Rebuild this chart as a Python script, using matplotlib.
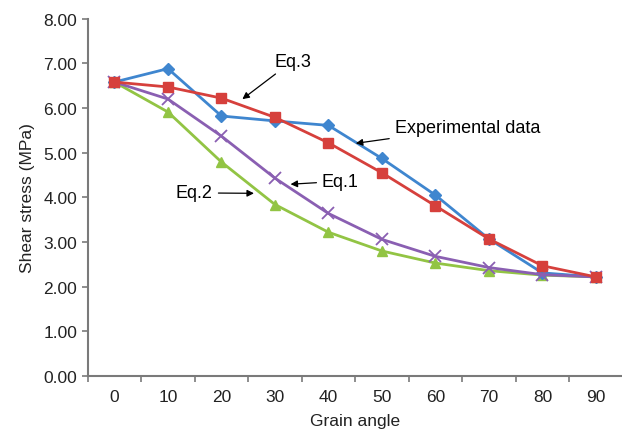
import matplotlib
matplotlib.use("Agg")
import matplotlib.pyplot as plt

plt.rcParams['font.family'] = ['Liberation Sans', 'DejaVu Sans']

angles = ['0', '10', '20', '30', '40', '50', '60', '70', '80', '90']
experimental = [6.58, 6.88, 5.82, 5.71, 5.61, 4.87, 4.05, 3.07, 2.31, 2.22]
eq3 = [6.58, 6.47, 6.22, 5.79, 5.22, 4.55, 3.81, 3.07, 2.47, 2.22]
eq1 = [6.58, 6.20, 5.37, 4.43, 3.64, 3.06, 2.68, 2.43, 2.27, 2.22]
eq2 = [6.58, 5.91, 4.79, 3.84, 3.22, 2.80, 2.53, 2.36, 2.26, 2.22]

fig = plt.figure(figsize=(6.22, 4.35), dpi=100)
ax = fig.add_axes([0.141, 0.133, 0.86, 0.822])

x = range(len(angles))
ax.plot(x, experimental, color='#3f86cf', lw=2, marker='D', ms=6, zorder=3)
ax.plot(x, eq3, color='#d6403c', lw=2, marker='s', ms=7.5, zorder=4)
ax.plot(x, eq1, color='#8a5fb2', lw=2, marker='x', ms=8, mew=1.3, zorder=3)
ax.plot(x, eq2, color='#92c444', lw=2, marker='^', ms=7.5, zorder=2)

ax.set_xlim(-0.5, 9.5)
ax.set_ylim(0, 8)
ax.set_xticks([i - 0.5 for i in range(11)])
ax.set_xticklabels([])
ax.set_xticks(list(x), minor=True)
ax.set_xticklabels(angles, minor=True)
ax.tick_params(axis='x', which='minor', length=0, pad=9)
ax.set_yticks(range(9))
ax.set_yticklabels(['%.2f' % v for v in range(9)])

for s in ['top', 'right']:
    ax.spines[s].set_visible(False)
for s in ['left', 'bottom']:
    ax.spines[s].set_color('#7a7a7a')
    ax.spines[s].set_linewidth(1.5)
ax.tick_params(which='major', direction='out', length=4, width=1.2, color='#7a7a7a')
ax.tick_params(which='both', labelsize=12.5, labelcolor='#222222')

ax.set_xlabel('Grain angle', fontsize=12.5, color='#222222', labelpad=7)
ax.set_ylabel('Shear stress (MPa)', fontsize=12.5, color='#222222', labelpad=6)

arrow = dict(arrowstyle='-|>', color='black', lw=0.9, mutation_scale=10)
ax.annotate('Eq.3', xy=(2.35, 6.16), xytext=(3.33, 7.05), fontsize=13,
            ha='center', va='center', arrowprops=arrow)
ax.annotate('Experimental data', xy=(4.46, 5.2), xytext=(5.24, 5.56), fontsize=13,
            ha='left', va='center', arrowprops=arrow)
ax.annotate('Eq.1', xy=(3.24, 4.29), xytext=(3.88, 4.36), fontsize=13,
            ha='left', va='center', arrowprops=arrow)
ax.annotate('Eq.2', xy=(2.66, 4.09), xytext=(1.84, 4.1), fontsize=13,
            ha='right', va='center', arrowprops=arrow)

fig.savefig('out.png', dpi=100)
